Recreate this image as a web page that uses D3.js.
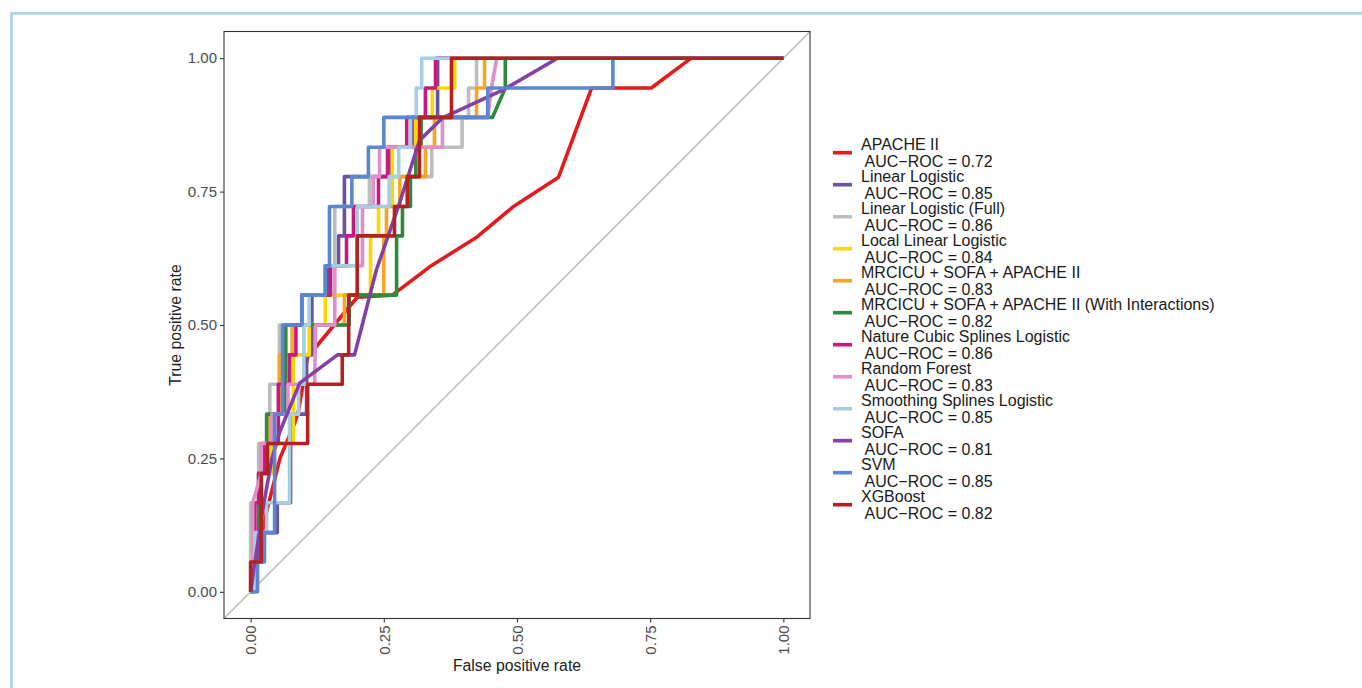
<!DOCTYPE html>
<html>
<head>
<meta charset="utf-8">
<script src="https://cdn.jsdelivr.net/npm/d3@7"></script>
<style>
  body { margin: 0; background: #fff; }
  text { font-family: "Liberation Sans", Arial, sans-serif; }
</style>
</head>
<body>
<svg id="chart" width="1362" height="688"></svg>
<script>
// models in legend order (last one is drawn on top)
const modelNames = [
  'APACHE II', 'Linear Logistic', 'Linear Logistic (Full)', 'Local Linear Logistic',
  'MRCICU + SOFA + APACHE II', 'MRCICU + SOFA + APACHE II (With Interactions)',
  'Nature Cubic Splines Logistic', 'Random Forest', 'Smoothing Splines Logistic',
  'SOFA', 'SVM', 'XGBoost'
];
const aucValues = ['0.72', '0.85', '0.86', '0.84', '0.83', '0.82', '0.86', '0.83', '0.85', '0.81', '0.85', '0.82'];
const lineColors = ['#E41A1C', '#6A51A3', '#BDBDBD', '#FFD700', '#F5A623', '#2E8B3E',
  '#C9197F', '#DF8FC9', '#A6CEE3', '#8440A6', '#5B87D0', '#B22222'];

// [false positive rate, true positive rate]
const apacheRoc = [[0,0],[0.01,0.056],[0.03,0.15],[0.055,0.25],[0.083,0.317],[0.09,0.34],[0.107,0.44],
  [0.2,0.552],[0.266,0.556],[0.336,0.609],[0.425,0.665],[0.492,0.721],[0.578,0.777],[0.64,0.944],
  [0.752,0.944],[0.827,1],[1,1]];
const linearRoc = [[0,0],[0.008,0],[0.008,0.056],[0.015,0.056],[0.015,0.111],[0.05,0.111],[0.05,0.167],
  [0.075,0.167],[0.075,0.333],[0.105,0.333],[0.105,0.444],[0.115,0.444],[0.115,0.556],[0.145,0.556],
  [0.145,0.611],[0.165,0.611],[0.165,0.667],[0.176,0.667],[0.176,0.778],[0.26,0.778],[0.26,0.833],
  [0.303,0.833],[0.303,0.889],[0.351,0.889],[0.351,1],[1,1]];
const linearFullRoc = [[0,0],[0,0.167],[0.015,0.167],[0.015,0.278],[0.036,0.278],[0.036,0.389],
  [0.054,0.389],[0.054,0.5],[0.096,0.5],[0.096,0.556],[0.14,0.556],[0.14,0.611],[0.158,0.611],
  [0.158,0.722],[0.223,0.722],[0.223,0.778],[0.34,0.778],[0.34,0.833],[0.397,0.833],[0.397,0.889],
  [0.409,0.889],[0.409,0.944],[0.424,0.944],[0.424,1],[1,1]];
const localLinearRoc = [[0,0],[0.004,0],[0.004,0.111],[0.02,0.111],[0.02,0.222],[0.04,0.222],
  [0.04,0.278],[0.08,0.278],[0.08,0.444],[0.11,0.444],[0.11,0.5],[0.14,0.5],[0.14,0.556],[0.225,0.556],
  [0.225,0.667],[0.24,0.667],[0.24,0.722],[0.266,0.722],[0.266,0.833],[0.31,0.833],[0.31,0.889],
  [0.341,0.889],[0.341,0.944],[0.383,0.944],[0.383,1],[1,1]];
const mrcicuRoc = [[0,0],[0.006,0],[0.006,0.111],[0.02,0.111],[0.02,0.278],[0.036,0.278],[0.036,0.333],
  [0.054,0.333],[0.054,0.444],[0.078,0.444],[0.078,0.5],[0.176,0.5],[0.176,0.556],[0.25,0.556],
  [0.25,0.667],[0.255,0.667],[0.255,0.722],[0.28,0.722],[0.28,0.778],[0.328,0.778],[0.328,0.833],
  [0.345,0.833],[0.345,0.889],[0.424,0.889],[0.424,0.944],[0.439,0.944],[0.439,1],[1,1]];
const mrcicuInterRoc = [[0,0],[0.004,0],[0.004,0.111],[0.015,0.111],[0.015,0.222],[0.03,0.222],
  [0.03,0.333],[0.066,0.333],[0.066,0.5],[0.185,0.5],[0.185,0.556],[0.274,0.556],[0.274,0.667],
  [0.285,0.667],[0.285,0.722],[0.3,0.722],[0.3,0.778],[0.31,0.778],[0.31,0.833],[0.32,0.833],
  [0.32,0.889],[0.454,0.889],[0.478,0.944],[0.478,1],[1,1]];
const cubicSplineRoc = [[0,0],[0.004,0],[0.004,0.056],[0.008,0.056],[0.008,0.167],[0.015,0.167],
  [0.015,0.222],[0.026,0.222],[0.026,0.278],[0.052,0.278],[0.052,0.389],[0.073,0.389],[0.073,0.444],
  [0.085,0.444],[0.085,0.5],[0.096,0.5],[0.096,0.556],[0.15,0.556],[0.15,0.611],[0.18,0.611],
  [0.18,0.667],[0.193,0.667],[0.193,0.722],[0.24,0.722],[0.24,0.778],[0.257,0.778],[0.257,0.833],
  [0.293,0.833],[0.293,0.889],[0.328,0.889],[0.328,0.944],[0.347,0.944],[0.347,1],[1,1]];
const forestRoc = [[0,0],[0.004,0],[0.004,0.167],[0.02,0.222],[0.02,0.278],[0.04,0.278],[0.04,0.333],
  [0.07,0.333],[0.07,0.389],[0.12,0.389],[0.122,0.5],[0.158,0.5],[0.158,0.611],[0.21,0.611],
  [0.21,0.722],[0.23,0.722],[0.23,0.778],[0.242,0.778],[0.242,0.833],[0.36,0.833],[0.36,0.889],
  [0.445,0.889],[0.452,0.944],[0.462,1],[1,1]];
const smoothSplineRoc = [[0,0],[0.008,0],[0.008,0.111],[0.03,0.111],[0.03,0.167],[0.073,0.167],
  [0.073,0.333],[0.09,0.333],[0.09,0.389],[0.1,0.389],[0.1,0.5],[0.11,0.5],[0.11,0.556],[0.14,0.556],
  [0.14,0.611],[0.2,0.611],[0.2,0.722],[0.26,0.722],[0.26,0.778],[0.278,0.778],[0.278,0.833],
  [0.3,0.833],[0.3,0.889],[0.311,0.889],[0.311,0.944],[0.321,0.944],[0.321,1],[1,1]];
const sofaRoc = [[0,0],[0.008,0.056],[0.025,0.167],[0.04,0.25],[0.054,0.298],[0.092,0.391],
  [0.163,0.444],[0.195,0.444],[0.236,0.603],[0.28,0.73],[0.317,0.846],[0.36,0.888],[0.473,0.94],
  [0.576,1],[1,1]];
const svmRoc = [[0,0],[0.013,0],[0.013,0.056],[0.026,0.056],[0.026,0.111],[0.045,0.111],[0.045,0.333],
  [0.06,0.333],[0.06,0.5],[0.096,0.5],[0.096,0.556],[0.14,0.556],[0.14,0.611],[0.148,0.611],
  [0.148,0.722],[0.19,0.722],[0.19,0.778],[0.221,0.778],[0.221,0.833],[0.25,0.833],[0.25,0.889],
  [0.445,0.889],[0.445,0.944],[0.68,0.944],[0.68,1],[1,1]];
const xgboostRoc = [[0,0],[0,0.056],[0.02,0.056],[0.02,0.222],[0.032,0.222],[0.032,0.278],
  [0.107,0.278],[0.107,0.389],[0.172,0.389],[0.172,0.444],[0.184,0.444],[0.184,0.556],[0.2,0.556],
  [0.2,0.667],[0.27,0.667],[0.27,0.722],[0.294,0.722],[0.294,0.778],[0.317,0.778],[0.317,0.889],
  [0.377,0.889],[0.377,1],[1,1]];

const rocCurves = [apacheRoc, linearRoc, linearFullRoc, localLinearRoc, mrcicuRoc, mrcicuInterRoc,
  cubicSplineRoc, forestRoc, smoothSplineRoc, sofaRoc, svmRoc, xgboostRoc];
const axisTicks = [0, 0.25, 0.5, 0.75, 1];

const svg = d3.select('#chart');

// outer light blue frame (cut at right and bottom)
svg.append('rect')
  .attr('x', 11.5).attr('y', 13.3)
  .attr('width', 1400).attr('height', 700)
  .attr('fill', 'none')
  .attr('stroke', '#A9D4EE')
  .attr('stroke-width', 2.6);

const panel = { left: 224, right: 810, top: 31.5, bottom: 618.5 };

const x = d3.scaleLinear().domain([-0.05, 1.05]).range([panel.left, panel.right]);
const y = d3.scaleLinear().domain([-0.05, 1.05]).range([panel.bottom, panel.top]);

// reference diagonal
svg.append('line')
  .attr('x1', x(-0.05)).attr('y1', y(-0.05))
  .attr('x2', x(1.05)).attr('y2', y(1.05))
  .attr('stroke', '#BEBEBE')
  .attr('stroke-width', 1.6);

const line = d3.line()
  .x(d => x(d[0]))
  .y(d => y(d[1]));

svg.append('g')
  .selectAll('path')
  .data(rocCurves)
  .enter().append('path')
  .attr('d', line)
  .attr('fill', 'none')
  .attr('stroke', (d, i) => lineColors[i])
  .attr('stroke-width', 3.6)
  .attr('stroke-linejoin', 'round');

// panel border
svg.append('rect')
  .attr('x', panel.left).attr('y', panel.top)
  .attr('width', panel.right - panel.left)
  .attr('height', panel.bottom - panel.top)
  .attr('fill', 'none')
  .attr('stroke', '#333')
  .attr('stroke-width', 1.1);

const fmt = d3.format('.2f');

const xAxis = svg.append('g')
  .attr('transform', `translate(0,${panel.bottom})`)
  .call(d3.axisBottom(x).tickValues(axisTicks).tickFormat(fmt).tickSize(4));
xAxis.select('.domain').remove();
xAxis.selectAll('line').attr('stroke', '#333').attr('stroke-width', 1.1);
xAxis.selectAll('text')
  .attr('fill', '#4D4D4D')
  .style('font-size', '15px')
  .attr('transform', 'rotate(-90)')
  .attr('x', -7).attr('y', 0).attr('dy', '0.35em')
  .attr('text-anchor', 'end');

const yAxis = svg.append('g')
  .attr('transform', `translate(${panel.left},0)`)
  .call(d3.axisLeft(y).tickValues(axisTicks).tickFormat(fmt).tickSize(4));
yAxis.select('.domain').remove();
yAxis.selectAll('line').attr('stroke', '#333').attr('stroke-width', 1.1);
yAxis.selectAll('text')
  .attr('fill', '#4D4D4D')
  .style('font-size', '15px')
  .attr('x', -7);

svg.append('text')
  .attr('x', (panel.left + panel.right) / 2)
  .attr('y', 665)
  .attr('dy', '0.35em')
  .attr('text-anchor', 'middle')
  .style('font-size', '15.8px')
  .attr('fill', '#222')
  .text('False positive rate');

svg.append('text')
  .attr('transform', `translate(175,${(panel.top + panel.bottom) / 2}) rotate(-90)`)
  .attr('dy', '0.35em')
  .attr('text-anchor', 'middle')
  .style('font-size', '15.8px')
  .attr('fill', '#222')
  .text('True positive rate');

// legend
const legend = svg.append('g').attr('transform', 'translate(833,152.7)');
const item = legend.selectAll('g')
  .data(modelNames)
  .enter().append('g')
  .attr('transform', (d, i) => `translate(0,${i * 32})`);

item.append('line')
  .attr('x1', 0).attr('x2', 19)
  .attr('stroke', (d, i) => lineColors[i])
  .attr('stroke-width', 3.6);

item.append('text')
  .attr('x', 28).attr('y', -8)
  .attr('dy', '0.35em')
  .style('font-size', '16px')
  .attr('fill', '#1a1a1a')
  .text(d => d);

item.append('text')
  .attr('x', 28).attr('y', 8.5)
  .attr('dy', '0.35em')
  .style('font-size', '16px')
  .style('white-space', 'pre')
  .attr('fill', '#1a1a1a')
  .text((d, i) => ' AUC\u2212ROC = ' + aucValues[i]);
</script>
</body>
</html>
